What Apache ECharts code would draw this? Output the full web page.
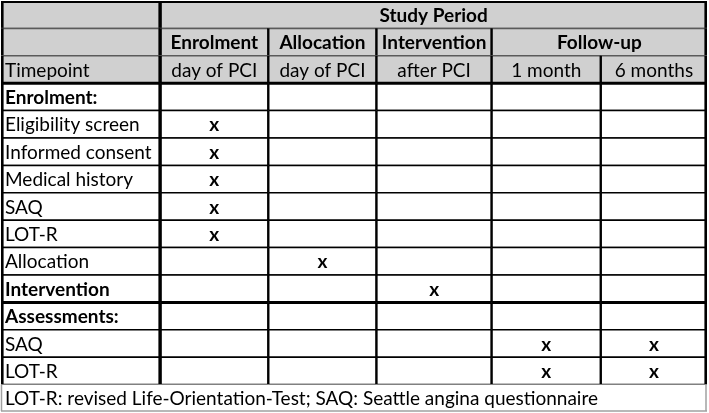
<!DOCTYPE html>
<html>
<head>
<meta charset="utf-8">
<script src="https://cdn.jsdelivr.net/npm/echarts@6/dist/echarts.min.js"></script>
<style>
  html, body { margin: 0; padding: 0; background: #ffffff; }
  #main { width: 709px; height: 413px; }
</style>
</head>
<body>
<div id="main"></div>
<script>
// 表头数据
const studyPeriod = 'Study Period';
const phases = ['Enrolment', 'Allocation', 'Intervention', 'Follow-up'];
const phaseSpans = [1, 1, 1, 2];
const timepointLabel = 'Timepoint';
const timepoints = ['day of PCI', 'day of PCI', 'after PCI', '1 month', '6 months'];
// 行标签
const activities = ['Enrolment:', 'Eligibility screen', 'Informed consent', 'Medical history', 'SAQ', 'LOT-R',
  'Allocation', 'Intervention', 'Assessments:', 'SAQ', 'LOT-R'];
const boldActivities = [true, false, false, false, false, false, false, true, true, false, false];
// 1 = 该时间点执行
const schedule = [
  [0, 0, 0, 0, 0],
  [1, 0, 0, 0, 0],
  [1, 0, 0, 0, 0],
  [1, 0, 0, 0, 0],
  [1, 0, 0, 0, 0],
  [1, 0, 0, 0, 0],
  [0, 1, 0, 0, 0],
  [0, 0, 1, 0, 0],
  [0, 0, 0, 0, 0],
  [0, 0, 0, 1, 1],
  [0, 0, 0, 1, 1],
];
const footnote = 'LOT-R: revised Life-Orientation-Test; SAQ: Seattle angina questionnaire';

// 列宽(布局)
const colWidths = [159, 108, 108, 115, 109, 106];
const edges = [0];
colWidths.forEach((w) => edges.push(edges[edges.length - 1] + w));
const fontFamily = 'Lato, "Open Sans", sans-serif';
const fontSize = 19;

// 拼出单元格
const cells = [];
const rowNames = [];
rowNames.push('h0', 'h1', 'h2');
cells.push({ c0: 0, c1: 1, row: 0, text: '', kind: 'head' });
cells.push({ c0: 1, c1: 6, row: 0, text: studyPeriod, bold: true, kind: 'head' });
cells.push({ c0: 0, c1: 1, row: 1, text: '', kind: 'head' });
let c = 1;
phases.forEach((p, i) => {
  cells.push({ c0: c, c1: c + phaseSpans[i], row: 1, text: p, bold: true, kind: 'head' });
  c += phaseSpans[i];
});
cells.push({ c0: 0, c1: 1, row: 2, text: timepointLabel, left: true, kind: 'head' });
timepoints.forEach((t, i) => {
  cells.push({ c0: i + 1, c1: i + 2, row: 2, text: t, kind: 'head' });
});
activities.forEach((a, r) => {
  const row = r + 3;
  rowNames.push(a + r);
  cells.push({ c0: 0, c1: 1, row, text: a, left: true, bold: boldActivities[r], kind: 'body' });
  schedule[r].forEach((v, i) => {
    cells.push({ c0: i + 1, c1: i + 2, row, text: v ? 'x' : '', bold: true, kind: 'body' });
  });
});
rowNames.push('foot');
cells.push({ c0: 0, c1: 6, row: activities.length + 3, text: footnote, left: true, kind: 'foot' });

const thickRows = [3, 11];

const myChart = echarts.init(document.getElementById('main'));

const renderItem = (params, api) => {
  const cell = cells[params.dataIndex];
  const p0 = api.coord([edges[cell.c0], cell.row]);
  const p1 = api.coord([edges[cell.c1], cell.row]);
  const h = api.size([0, 1])[1];
  const x0 = p0[0];
  const x1 = p1[0];
  const y0 = p0[1] - h / 2;
  const y1 = p0[1] + h / 2;
  const children = [];
  children.push({
    type: 'rect',
    shape: { x: x0, y: y0, width: x1 - x0, height: h },
    style: { fill: cell.kind === 'head' ? '#d0d0d0' : '#ffffff' },
  });
  const line = (ax, ay, bx, by, color, width) => ({
    type: 'line',
    shape: { x1: ax, y1: ay, x2: bx, y2: by },
    style: { stroke: color, lineWidth: width },
  });
  if (cell.kind === 'foot') {
    children.push(line(x0 + 0.5, y0, x0 + 0.5, y1 - 1, '#a0a0a0', 1.5));
    children.push(line(x1 - 1, y0, x1 - 1, y1 - 1, '#a0a0a0', 1.5));
    children.push(line(x0, y1 - 1, x1, y1 - 1, '#a0a0a0', 1.5));
  } else {
    const hColor = cell.kind === 'head' ? '#5a5a5a' : '#000000';
    const topW = thickRows.indexOf(cell.row) >= 0 ? 3 : (cell.row === 0 ? 2 : 1.5);
    children.push(line(x0, y0 + (cell.row === 0 ? 1 : 0), x1, y0 + (cell.row === 0 ? 1 : 0), cell.row === 0 || thickRows.indexOf(cell.row) >= 0 ? '#000' : hColor, topW));
    children.push(line(x0, y1, x1, y1, hColor, 1.5));
    const vw = (i) => (i === 1 ? 3.2 : i === 0 || i === 6 ? 2.6 : 2.2);
    children.push(line(x0 + (cell.c0 === 0 ? 1.3 : 0), y0, x0 + (cell.c0 === 0 ? 1.3 : 0), y1, '#000', vw(cell.c0)));
    children.push(line(x1 - (cell.c1 === 6 ? 1.3 : 0), y0, x1 - (cell.c1 === 6 ? 1.3 : 0), y1, '#000', vw(cell.c1)));
  }
  if (cell.text) {
    children.push({
      type: 'text',
      style: {
        text: cell.text,
        x: cell.left ? x0 + 4 : (x0 + x1) / 2,
        y: (y0 + y1) / 2 + 1,
        align: cell.left ? 'left' : 'center',
        verticalAlign: 'middle',
        fill: '#000000',
        fontFamily,
        fontSize,
        fontWeight: cell.bold ? 'bold' : 'normal',
      },
    });
  }
  return { type: 'group', children };
};

const options = {
  animation: false,
  grid: { left: 1, top: 1, width: 706, height: 411 },
  xAxis: { type: 'value', min: 0, max: edges[edges.length - 1], show: false },
  yAxis: { type: 'category', data: rowNames, inverse: true, show: false },
  series: [
    {
      type: 'custom',
      renderItem,
      data: cells.map((cell) => [edges[cell.c0], cell.row, edges[cell.c1]]),
      clip: false,
    },
  ],
};
myChart.setOption(options);
window.onresize = function () {
  myChart.resize();
};
</script>
</body>
</html>
